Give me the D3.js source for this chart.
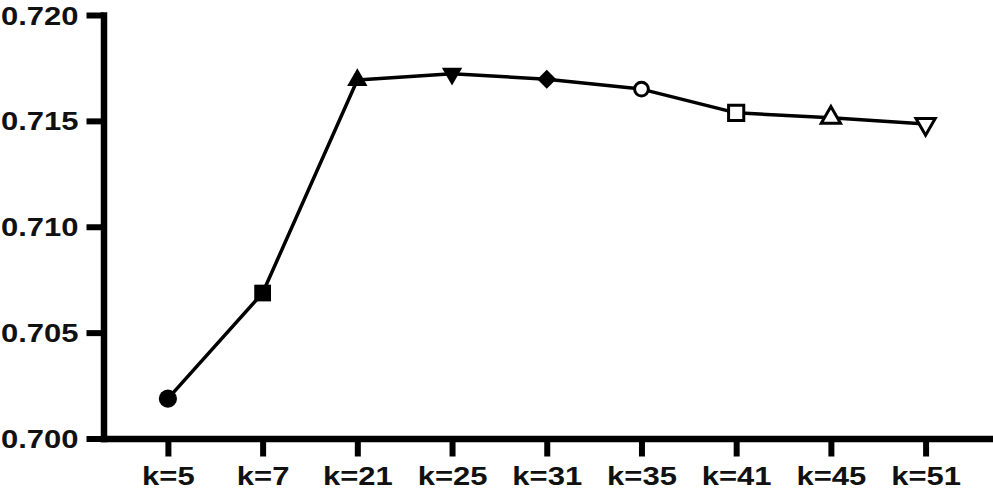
<!DOCTYPE html>
<html lang="en">
<head>
	<meta charset="UTF-8">
	<title>k line chart</title>
	<script src="https://cdn.jsdelivr.net/npm/d3@7"></script>
	<style>
		body { margin: 0; background: #fff; }
		text { font-family: "Liberation Sans", Arial, sans-serif; font-weight: bold; }
	</style>
</head>
<body>
	<svg id="viz"></svg>
	<script>
		// Data ---
		const kLabels = ['k=5', 'k=7', 'k=21', 'k=25', 'k=31', 'k=35', 'k=41', 'k=45', 'k=51'];
		const scores = [0.70188, 0.70687, 0.71693, 0.71723, 0.71697, 0.71650, 0.71538, 0.71515, 0.71485];
		const markerShapes = ['circle', 'square', 'triangle', 'triangleDown', 'diamond', 'circle', 'square', 'triangle', 'triangleDown'];
		const markerFilled = [true, true, true, true, true, false, false, false, false];
		const yTicks = [0.700, 0.705, 0.710, 0.715, 0.720];

		// Dimensions ---
		const svgWidth = 993, svgHeight = 496;
		const plotLeft = 103.5, plotRight = 990, plotTop = 15, plotBottom = 438.5;
		const stretch = 1.24; // the labels in the original are drawn wide
		const fontSize = '25px';

		const svg = d3.select('#viz')
			.attr('width', svgWidth)
			.attr('height', svgHeight);

		// Scales ---
		const x = d3.scalePoint()
			.domain(kLabels)
			.range([plotLeft, plotRight])
			.padding(0.68);

		const y = d3.scaleLinear()
			.domain([0.700, 0.720])
			.range([plotBottom, plotTop]);

		// Axes ---
		const yAxis = svg.append('g')
			.attr('transform', `translate(${plotLeft},0)`)
			.call(d3.axisLeft(y).tickValues(yTicks).tickFormat(d3.format('.3f')).tickSize(17).tickSizeOuter(0));

		yAxis.selectAll('text')
			.attr('x', -25 / stretch)
			.attr('dy', '0.36em')
			.attr('transform', `scale(${stretch},1)`)
			.style('font-size', fontSize)
			.attr('fill', '#111');

		const xAxis = svg.append('g')
			.attr('transform', `translate(0,${plotBottom})`)
			.call(d3.axisBottom(x).tickSize(18).tickSizeOuter(0));

		xAxis.selectAll('text')
			.attr('y', 46.5)
			.attr('dy', 0)
			.attr('transform', `scale(${stretch},1)`)
			.style('font-size', fontSize)
			.attr('fill', '#111');

		svg.selectAll('.domain')
			.attr('stroke', '#000')
			.attr('stroke-width', 6.5)
			.attr('stroke-linecap', 'square');
		svg.selectAll('.tick line')
			.attr('stroke', '#000')
			.attr('stroke-width', 6);

		// Line ---
		const line = d3.line()
			.x((d, i) => x(kLabels[i]))
			.y(d => y(d));

		svg.append('path')
			.datum(scores)
			.attr('fill', 'none')
			.attr('stroke', '#000')
			.attr('stroke-width', 3.5)
			.attr('stroke-linejoin', 'round')
			.attr('d', line);

		// Markers ---
		const shapeFor = (name, filled) => {
			switch (name) {
				case 'circle': return d3.symbol(d3.symbolCircle, filled ? 260 : 150)();
				case 'square': return d3.symbol(d3.symbolSquare, filled ? 280 : 230)();
				case 'diamond': return d3.symbol(d3.symbolDiamond2, 230)();
				default: return d3.symbol(d3.symbolTriangle, filled ? 180 : 160)();
			}
		};

		svg.selectAll('path.marker')
			.data(scores)
			.join('path')
			.attr('class', 'marker')
			.attr('d', (d, i) => shapeFor(markerShapes[i], markerFilled[i]))
			.attr('transform', (d, i) => {
				const rot = markerShapes[i] === 'triangleDown' ? ' rotate(180)' : '';
				return `translate(${x(kLabels[i])},${y(d)})${rot}`;
			})
			.attr('fill', (d, i) => markerFilled[i] ? '#000' : '#fff')
			.attr('stroke', '#000')
			.attr('stroke-width', (d, i) => markerFilled[i] ? 0 : 3);
	</script>
</body>
</html>
